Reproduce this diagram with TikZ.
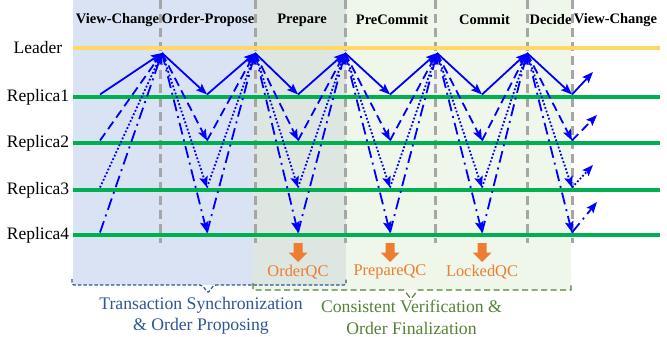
\documentclass[tikz,border=0pt]{standalone}
\usepackage{fontspec}
\setmainfont{Liberation Serif}
\usetikzlibrary{arrows.meta}

\definecolor{bgblue}{HTML}{DAE3F3}
\definecolor{bggreen}{HTML}{EFF6EA}
\definecolor{bgmix}{HTML}{DDE6E1}
\definecolor{leaderc}{HTML}{FFD966}
\definecolor{replicac}{HTML}{00B050}
\definecolor{gridc}{HTML}{A6A6A6}
\definecolor{msgc}{HTML}{0000FF}
\definecolor{qcc}{HTML}{ED7D31}
\definecolor{syncc}{HTML}{2F5597}
\definecolor{finc}{HTML}{548235}

\tikzset{
  phase/.style={font=\bfseries\fontsize{14.5}{16}\selectfont, inner sep=0pt},
  role/.style={font=\fontsize{17.5}{20}\selectfont, inner sep=0pt},
  qclabel/.style={font=\fontsize{16.4}{18}\selectfont, text=qcc, inner sep=0pt},
  groupnote/.style={font=\fontsize{17.7}{21.5}\selectfont, align=center, inner sep=0pt},
  msg/.style={draw=msgc, line width=1.8pt, -{Stealth[length=11pt,width=8.5pt,inset=2pt]}},
  ls1/.style={solid},
  ls2/.style={dash pattern=on 9pt off 5pt},
  ls3/.style={dash pattern=on 1.8pt off 2pt},
  ls4/.style={dash pattern=on 12pt off 5pt on 2pt off 5pt},
  phaseline/.style={draw=gridc, line width=3pt, dash pattern=on 9pt off 5pt},
  lane/.style={line width=4pt},
}

\begin{document}
\begin{tikzpicture}[x=1pt,y=-1pt]
\useasboundingbox (0,0) rectangle (667,337);

% shaded phase groups (the Prepare phase belongs to both)
\fill[bgblue] (73,0) rectangle (253,285);
\fill[bggreen] (253,0) rectangle (571,290);
\fill[bgmix] (253,0) rectangle (346,285);

% phase boundaries
\foreach \x in {160,255,345,435,527,572}
  \draw[phaseline] (\x,0) -- (\x,243);

% phase titles
\node[phase] (ph1) at (117.5,20) {View-Change};
\node[phase] (ph2) at (208,20) {Order-Propose};
\node[phase] (ph3) at (302,20) {Prepare};
\node[phase] (ph4) at (392,20) {PreCommit};
\node[phase] (ph5) at (484.5,20) {Commit};
\node[phase] (ph6) at (550.5,20) {Decide};
\node[phase] (ph7) at (615.5,20) {View-Change};

% lanes
\node[role] (leader) at (38,48) {Leader};
\node[role] (rep1) at (38,97) {Replica1};
\node[role] (rep2) at (38,143) {Replica2};
\node[role] (rep3) at (38,190) {Replica3};
\node[role] (rep4) at (38,235) {Replica4};
\draw[lane, leaderc] (73,48) -- (660,48);
\foreach \y in {97,143,190,235}
  \draw[lane, replicac] (73,\y) -- (660,\y);

% message points
\foreach \i/\x in {1/162,2/255,3/345,4/437,5/527}
  \coordinate (L\i) at (\x,53);
\foreach \r/\y/\ox/\oy in {1/94.5/593/72, 2/140.5/597/115, 3/187.5/593/165, 4/232.5/597/202} {
  \foreach \j/\x in {0/100,1/207,2/298,3/390,4/482,5/572}
    \coordinate (R\r-\j) at (\x,\y);
  \coordinate (O\r) at (\ox,\oy);
}

% messages: replica -> leader -> replica, one line style per replica
\foreach \r in {1,...,4} {
  \foreach \j [evaluate=\j as \k using int(\j+1)] in {0,...,4} {
    \draw[msg, ls\r] (R\r-\j) -- (L\k);
    \draw[msg, ls\r] (L\k) -- (R\r-\k);
  }
  \draw[msg, ls\r] (R\r-5) -- (O\r);
}

% quorum certificates
\foreach \x/\t/\n in {298/OrderQC/qc1, 390/PrepareQC/qc2, 482/LockedQC/qc3} {
  \fill[qcc] (\x-4.5,243) -- (\x+4.5,243) -- (\x+4.5,252.5) -- (\x+9.5,252.5)
    -- (\x,262) -- (\x-9.5,252.5) -- (\x-4.5,252.5) -- cycle;
  \node[qclabel] (\n) at (\x,272) {\t};
}

% group brackets
\draw[syncc, line width=1.2pt, dash pattern=on 3.5pt off 2pt, rounded corners=2pt]
  (72,279) -- (72,285) -- (202,285) -- (208,293) -- (214,285) -- (346,285) -- (346,279);
\draw[finc, line width=1.2pt, dash pattern=on 6pt off 3.5pt]
  (253,283) -- (253,290) -- (404,290) -- (411,299) -- (418,290) -- (571,290) -- (571,283);

\node[groupnote, text=syncc] (syncnote) at (201,316) {Transaction Synchronization\\\& Order Proposing};
\node[groupnote, text=finc] (finnote) at (411.5,317.5) {Consistent Verification \&\\Order Finalization};
\end{tikzpicture}
\end{document}
